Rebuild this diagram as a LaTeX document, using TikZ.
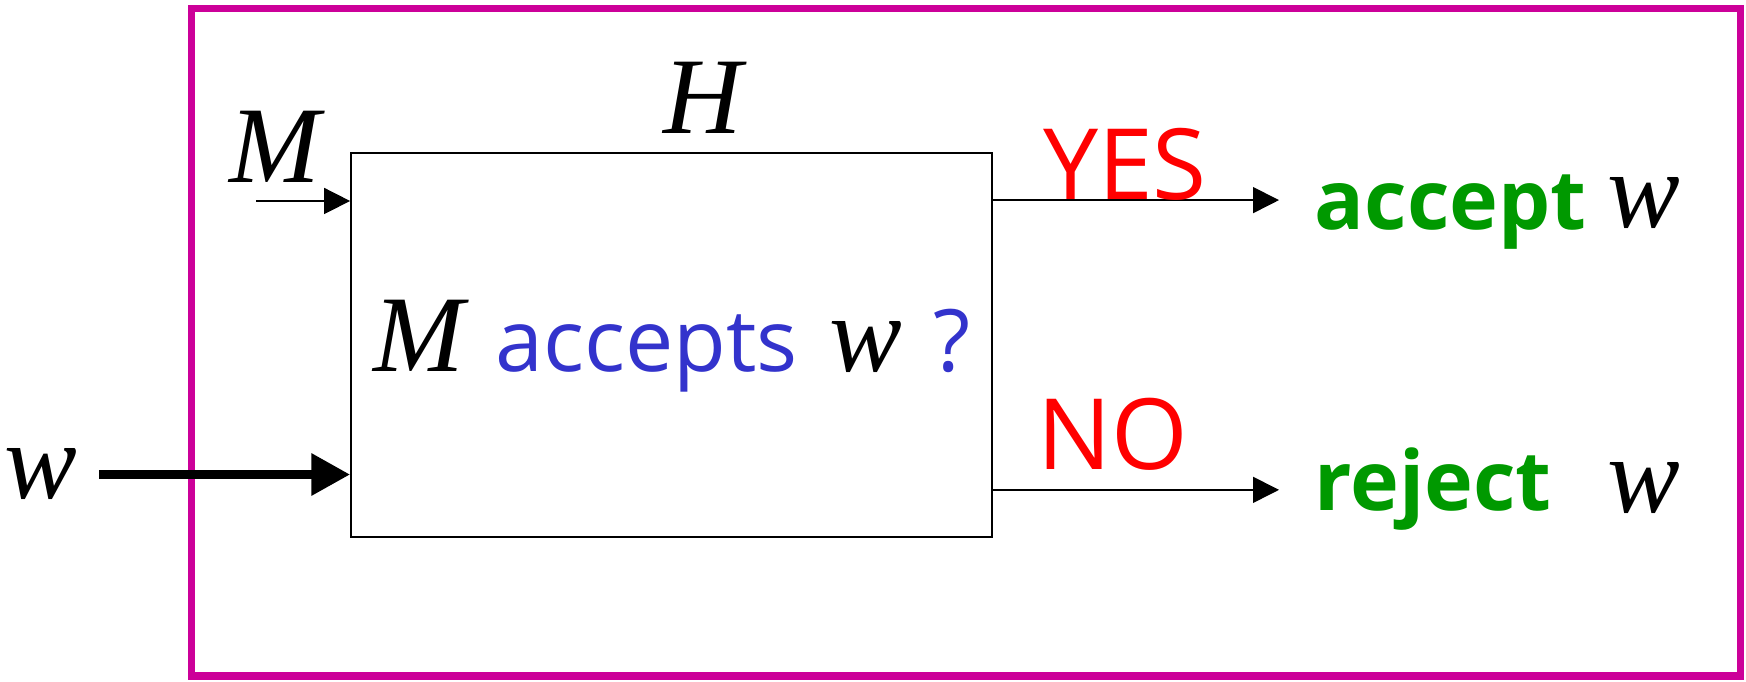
\documentclass[tikz,border=0pt]{standalone}
\usepackage{fontspec}
\setmainfont{Open Sans}
\newfontfamily\tms{Liberation Serif}
\usetikzlibrary{positioning,arrows.meta}

\definecolor{framemag}{RGB}{204,0,153}
\definecolor{askblue}{RGB}{51,51,204}
\definecolor{ansred}{RGB}{255,0,0}
\definecolor{outgreen}{RGB}{0,153,0}

\begin{document}
\begin{tikzpicture}[
        var/.style={font=\fontsize{31}{31}\tms\itshape, inner sep=0pt},
        ans/.style={font=\fontsize{28}{28}\selectfont, text=ansred, inner sep=0pt},
        outcome/.style={font=\fontsize{23.5}{24}\selectfont\bfseries, text=outgreen, inner sep=0pt},
        thinarr/.style={-{Triangle[length=7.4pt,width=7.4pt]}, line width=0.45pt},
        thickarr/.style={-{Triangle[length=11pt,width=11.4pt]}, line width=2.5pt}
    ]
    \useasboundingbox (0,0) rectangle (17.46,6.82);
    \draw[framemag, line width=2pt] (1.915,0.06) rectangle (17.40,6.73);

    % the decider H
    \node (hbox) [draw, line width=0.5pt, minimum width=6.41cm, minimum height=3.84cm] at (6.715,3.37) {};
    \node (hl) [var, above=0.177cm of hbox.north, xshift=0.315cm] {H};
    \node (query) [anchor=base, inner sep=0pt] at (6.72,3.10)
        {{\fontsize{31}{31}\tms\itshape M}\hspace{9pt}{\fontsize{24.5}{25}\selectfont\color{askblue}accepts}\hspace{9pt}{\fontsize{31}{31}\tms\itshape w}\hspace{9pt}{\fontsize{24.5}{25}\selectfont\color{askblue}?}};

    % inputs
    \node (ml) [var, anchor=base] at (2.75,4.99) {M};
    \coordinate (min) at (2.56,4.81);
    \draw[thinarr] (min) -- (min -| hbox.west);
    \node (wl) [var, anchor=base] at (0.41,1.83) {w};
    \draw[thickarr, shorten <=6pt] (wl.east) -- (wl.east -| hbox.west);

    % outputs
    \node (acc) [outcome, anchor=base west] at (13.14,4.52) {accept};
    \node (accw) [var, anchor=base west] at (16.07,4.54) {w};
    \node (rej) [outcome, anchor=base west] at (13.14,1.71) {reject};
    \node (rejw) [var, anchor=base west] at (16.07,1.69) {w};
    \coordinate (yesout) at ([yshift=-4.8mm]hbox.north east);
    \coordinate (noout) at ([yshift=4.8mm]hbox.south east);
    \draw[thinarr, shorten >=3.5mm] (yesout) -- (yesout -| acc.west);
    \draw[thinarr, shorten >=3.5mm] (noout) -- (noout -| rej.west);
    \node (yes) [ans, anchor=base] at (11.25,4.82) {YES};
    \node (no) [ans, anchor=base] at (11.13,2.12) {NO};
\end{tikzpicture}
\end{document}
